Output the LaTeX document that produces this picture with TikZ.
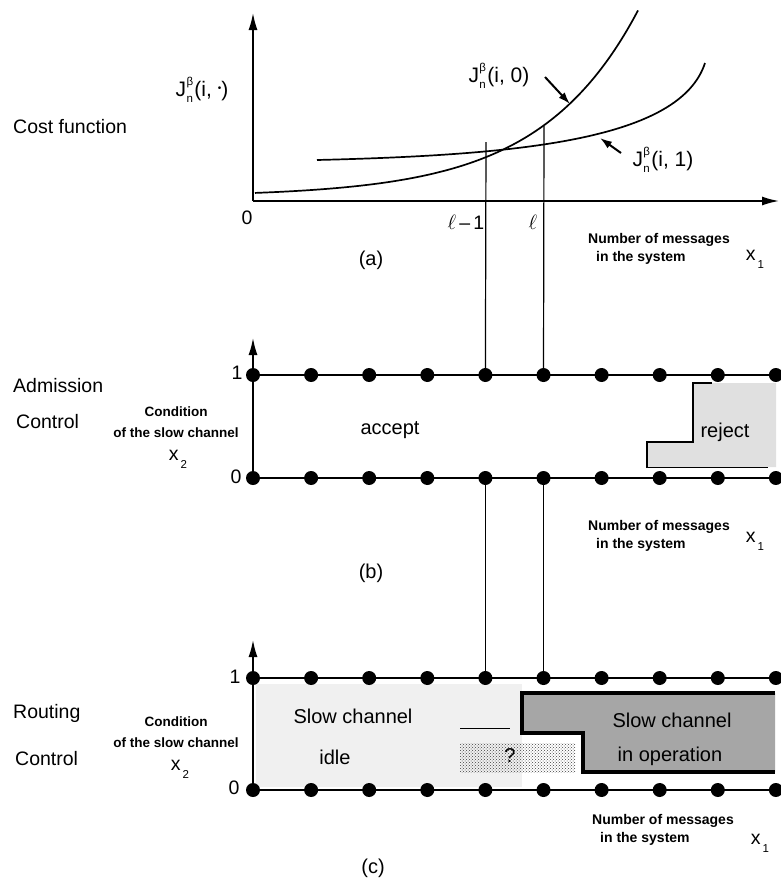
\documentclass[tikz,border=0pt]{standalone}
\usepackage{fontspec}
\setmainfont{Liberation Sans}
\usetikzlibrary{arrows.meta,patterns}
\newcommand{\Jlab}[1]{J\kern0.3pt\rlap{\raisebox{10.5pt}{\fontsize{11.5}{11.5}\selectfont β}}\raisebox{-6.5pt}{\fontsize{11.5}{11.5}\selectfont n}\kern1.5pt(#1)}
\newcommand{\xsub}[1]{x\kern2pt\raisebox{-8pt}{\fontsize{11.5}{11.5}\selectfont #1}}
\begin{document}
\begin{tikzpicture}[x=1pt,y=-1pt,
  lab/.style={font=\fontsize{19.5}{21}\selectfont, inner sep=0},
  big/.style={font=\fontsize{20}{22}\selectfont, inner sep=0},
  jl/.style={font=\fontsize{21}{23}\selectfont, inner sep=0},
  small/.style={font=\bfseries\fontsize{14}{18}\selectfont, align=left, inner sep=0},
  smallc/.style={font=\bfseries\fontsize{13.5}{21}\selectfont, align=center, inner sep=0},
  dot/.style={circle, fill=black, inner sep=0, minimum size=14pt},
  axis/.style={line width=1.6pt, -{Latex[length=17pt,width=9pt]}},
  row/.style={line width=1.6pt},
  guide/.style={line width=1.2pt},
  curve/.style={line width=1.7pt},
  pointer/.style={line width=2pt, -{Latex[length=12pt,width=8pt]}}]
\useasboundingbox (0,0) rectangle (781,887);
\fill[white] (0,0) rectangle (781,887);

% ---------------- (a) ----------------
\coordinate (ao) at (253,201);
\coordinate (ay) at (253,13);
\coordinate (ax) at (779,201);
\draw[axis] (ao) -- (ay);
\draw[axis] (ao) -- (ax);
\draw[curve] plot[domain=255:638, samples=80, smooth] (\x, {193 - 3.68*(exp(0.0102*(\x-253))-1)});
\coordinate (j1s) at (317,160);
\coordinate (j1e) at (705,63);
\draw[curve] (j1s) .. controls (520,155) and (680,140) .. (j1e);
\node[lab] (costf) at (13,127) [anchor=west] {Cost function};
\node[jl] (jdot) at (202,90) {\Jlab{i, \raisebox{5pt}{\fontsize{10}{10}\selectfont •}}};
\node[jl] (j0) at (499,76) {\Jlab{i, 0}};
\node[jl] (j1) at (663,160) {\Jlab{i, 1}};
\coordinate (j0t) at (545,77);
\coordinate (j0h) at (570,104);
\coordinate (j1t) at (621,153);
\coordinate (j1h) at (600,138);
\draw[pointer] (j0t) -- (j0h);
\draw[pointer] (j1t) -- (j1h);
\node[lab] (zero) at (247,218) {0};
\node[lab] (lm1) at (466,222) {$\ell$\,--\,1};
\node[lab] (lab-l) at (533,222) {$\ell$};
\node[small, anchor=west] (nma) at (588,249) {Number of messages\\\hspace*{8pt}in the system};
\node[lab] (x1a) at (755,259) {\xsub{1}};
\node[big] (capa) at (371,260) {(a)};
\coordinate (g1a) at (486,142);
\coordinate (g2a) at (544,126);

% ---------------- (b) ----------------
\fill[black!12] (647,442) -- (693,442) -- (693,383) -- (776,383) -- (776,467) -- (647,467) -- cycle;
\draw[line width=2.6pt] (647,468) -- (647,442) -- (693,442) -- (693,383) -- (712,383);
\draw[line width=1pt] (647,467) -- (768,467);
\node[big] (acc) at (390,430) {accept};
\node[big] (rej) at (725,432) {reject};
\foreach \i in {0,...,9} {
  \node[dot] (bt\i) at (253+58.1*\i,375) {};
  \node[dot] (bb\i) at (253+58.1*\i,478) {};
}
\draw[row] (bt0) -- (bt9);
\draw[row] (bb0) -- (bb9);
\draw[row] (bb0) -- (bt0);
\coordinate (byt) at (253,338);
\draw[axis] (bt0.center) -- (byt);
\node[lab] (b1) at (237,373) {1};
\node[lab] (b0) at (236,477) {0};
\node[lab, anchor=west] (adm) at (13,386) {Admission};
\node[lab, anchor=west] (adc) at (16,422) {Control};
\node[smallc] (bcond) at (176,422) {Condition\\of the slow channel};
\node[lab] (bx2) at (178,459) {\xsub{2}};
\node[small, anchor=west] (nmb) at (588,536) {Number of messages\\\hspace*{8pt}in the system};
\node[lab] (x1b) at (755,541) {\xsub{1}};
\node[big] (capb) at (371,573) {(b)};

% guides
\draw[guide] (g1a) -- (bt4);
\draw[guide] (g2a) -- (bt5);

% ---------------- (c) ----------------
\fill[black!6] (256,684) rectangle (522,787);
\fill[pattern=crosshatch dots, pattern color=black!75] (460,743) rectangle (575,772);
\draw[line width=1pt] (460,728) -- (510,728);
\fill[black!35] (522,693) -- (775,693) -- (775,772) -- (583,772) -- (583,733) -- (522,733) -- cycle;
\draw[line width=4pt] (775,693) -- (522,693) -- (522,733) -- (583,733) -- (583,772) -- (775,772);
\node[big] (idle1) at (353,716) {Slow channel};
\node[big] (idle2) at (335,757) {idle};
\node[big] (qm) at (510,756) {?};
\node[big] (op1) at (672,720) {Slow channel};
\node[big] (op2) at (670,756) {in operation};
\foreach \i in {0,...,9} {
  \node[dot] (ct\i) at (253+58.1*\i,678) {};
  \node[dot] (cb\i) at (253+58.1*\i,790) {};
}
\draw[row] (ct0) -- (ct9);
\draw[row] (cb0) -- (cb9);
\draw[row] (cb0) -- (ct0);
\coordinate (cyt) at (253,640);
\draw[axis] (ct0.center) -- (cyt);
\node[lab] (c1) at (235,677) {1};
\node[lab] (c0) at (234,788) {0};
\node[lab, anchor=west] (rout) at (13,713) {Routing};
\node[lab, anchor=west] (rouc) at (15,759) {Control};
\node[smallc] (ccond) at (176,732) {Condition\\of the slow channel};
\node[lab] (cx2) at (180,769) {\xsub{2}};
\node[small, anchor=west] (nmc) at (592,830) {Number of messages\\\hspace*{8pt}in the system};
\node[lab] (x1c) at (760,843) {\xsub{1}};
\node[big] (capc) at (373,868) {(c)};

% guides
\draw[guide] (bb4) -- (ct4);
\draw[guide] (bb5) -- (ct5);
\end{tikzpicture}
\end{document}
